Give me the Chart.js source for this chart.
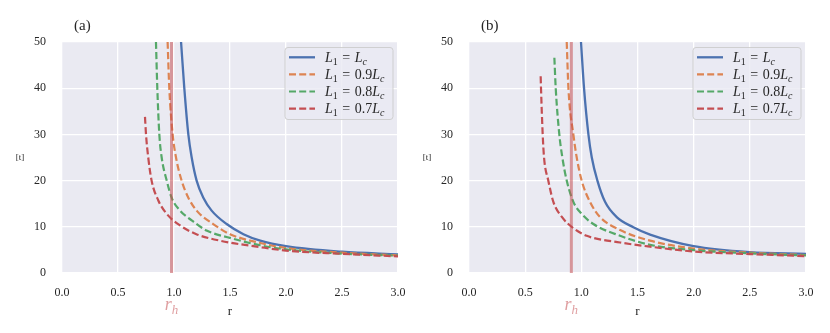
<!DOCTYPE html>
<html><head><meta charset="utf-8">
<script src="https://cdn.jsdelivr.net/npm/chart.js@4.4.1/dist/chart.umd.min.js"></script>
<style>
html,body{margin:0;padding:0;background:#fff;}
#wrap{position:relative;width:830px;height:333px;overflow:hidden;}
.pane{position:absolute;top:0;width:415px;height:333px;}
</style></head><body>
<div id="wrap">
<div class="pane" style="left:0"><canvas id="ca" width="415" height="333"></canvas></div>
<div class="pane" style="left:415px"><canvas id="cb" width="415" height="333"></canvas></div>
</div>
<script>
// ---------- data ----------
const xTicks = [0.0, 0.5, 1.0, 1.5, 2.0, 2.5, 3.0];
const yTicks = [0, 10, 20, 30, 40, 50];
const seriesCoeffs = ['', '0.9', '0.8', '0.7'];   // L1 = coeff * Lc
const panelTitles = ['(a)', '(b)'];
const rhA = 0.978;
const rhB = 0.911;

// panel (a)
const aR_100 = [1.063, 1.092, 1.128, 1.158, 1.202, 1.262, 1.336, 1.47, 1.62, 1.77, 2.0, 2.5, 3.0];
const aT_100 = [50, 40, 30, 25, 20, 16.3, 13.5, 10.6, 8.4, 7.0, 5.8, 4.6, 4.05];
const aR_90 = [0.943, 0.958, 0.988, 1.018, 1.068, 1.128, 1.202, 1.35, 1.5, 1.77, 2.0, 2.5, 3.0];
const aT_90 = [50, 40, 30, 25, 20, 16.3, 13.5, 10.6, 8.4, 6.5, 5.4, 4.4, 3.8];
const aR_80 = [0.839, 0.851, 0.869, 0.89, 0.935, 0.979, 1.054, 1.158, 1.29, 1.5, 1.77, 2.0, 2.5, 3.0];
const aT_80 = [50, 40, 30, 25, 20, 16.3, 13.5, 11.4, 9.2, 7.6, 6.0, 5.1, 4.2, 3.75];
const aR_70 = [0.741, 0.75, 0.77, 0.80, 0.86, 0.935, 1.054, 1.2, 1.41, 1.77, 2.0, 2.5, 3.0];
const aT_70 = [33.8, 30, 25, 20, 15.7, 12.8, 10.3, 8.4, 7.0, 5.6, 4.85, 4.15, 3.6];

// panel (b)
const bR_100 = [0.997, 1.024, 1.063, 1.093, 1.143, 1.211, 1.315, 1.463, 1.612, 2.0, 2.5, 3.0];
const bT_100 = [50, 40, 30, 25, 20, 15.4, 12.1, 9.9, 8.3, 5.8, 4.5, 4.15];
const bR_90 = [0.87, 0.885, 0.929, 0.959, 1.003, 1.077, 1.167, 1.345, 1.612, 2.0, 2.5, 3.0];
const bT_90 = [50, 40, 30, 25, 20, 15.4, 12.1, 9.3, 7.0, 5.3, 4.4, 3.9];
const bR_80 = [0.76, 0.772, 0.804, 0.831, 0.87, 0.929, 1.003, 1.107, 1.345, 1.612, 2.0, 2.5, 3.0];
const bT_80 = [46.6, 40, 30, 25, 20, 15.4, 12.8, 10.6, 8.05, 6.1, 4.95, 4.25, 3.8];
const bR_70 = [0.638, 0.641, 0.656, 0.668, 0.706, 0.751, 0.825, 0.929, 1.048, 1.345, 1.612, 2.0, 2.5, 3.0];
const bT_70 = [42.6, 40, 30, 25, 20, 15.4, 12.2, 9.7, 8.05, 6.6, 5.7, 4.65, 4.1, 3.65];

// ---------- styling ----------
const COLORS = ['#4c72b0', '#dd8452', '#55a868', '#c44e52'];
const RH_COLOR = 'rgba(196,78,82,0.55)';
const SERIF = '"Liberation Serif", "DejaVu Serif", serif';
const TXT = '#262626';

function pts(rs, ts) { return rs.map((r, i) => ({x: r, y: ts[i]})); }

function drawRuns(ctx, x, y, runs) {
  let cx = x;
  for (const r of runs) {
    const [t, it, sz, dy, gapAfter] = r;
    ctx.font = (it ? 'italic ' : '') + sz + 'px ' + SERIF;
    ctx.fillText(t, cx, y + (dy || 0));
    cx += ctx.measureText(t).width + (gapAfter || 0);
  }
  return cx;
}
function runsWidth(ctx, runs) {
  let w = 0;
  for (const r of runs) {
    const [t, it, sz, dy, gapAfter] = r;
    ctx.font = (it ? 'italic ' : '') + sz + 'px ' + SERIF;
    w += ctx.measureText(t).width + (gapAfter || 0);
  }
  return w;
}

const decor = {
  id: 'decor',
  beforeDraw(chart, args, o) {
    const {ctx, chartArea: a} = chart;
    ctx.save();
    ctx.fillStyle = '#eaeaf2';
    ctx.fillRect(a.left, a.top, a.right - a.left, a.bottom - a.top);
    ctx.restore();
  },
  afterDraw(chart, args, o) {
    const {ctx, chartArea: a} = chart;
    const xs = chart.scales.x;
    ctx.save();
    ctx.fillStyle = TXT;
    ctx.textBaseline = 'middle';
    ctx.textAlign = 'left';
    // panel title
    ctx.font = '15px ' + SERIF;
    ctx.fillText(o.title, a.left + 12, 26);
    // y label
    ctx.font = '9px ' + SERIF;
    ctx.textAlign = 'center';
    ctx.fillText('[t]', a.left - 42, (a.top + a.bottom) / 2);
    // x label
    ctx.font = '13px ' + SERIF;
    ctx.fillText('r', (a.left + a.right) / 2, 312);
    // r_h label
    ctx.textAlign = 'left';
    ctx.textBaseline = 'alphabetic';
    ctx.fillStyle = RH_COLOR;
    const rhRuns = [['r', true, 18, 0, 0], ['h', true, 13, 4, 0]];
    const rw = runsWidth(ctx, rhRuns);
    drawRuns(ctx, xs.getPixelForValue(o.rh) - rw / 2, 310, rhRuns);

    // legend
    const bw = 108, bh = 72;
    const bx = a.right - 5 - bw, by = a.top + 5.5;
    ctx.beginPath();
    ctx.roundRect(bx, by, bw, bh, 3);
    ctx.fillStyle = 'rgba(234,234,242,0.8)';
    ctx.fill();
    ctx.lineWidth = 1;
    ctx.strokeStyle = 'rgba(204,204,204,0.9)';
    ctx.stroke();
    const dsets = chart.data.datasets.filter(d => d.legendIndex !== undefined)
      .sort((p, q) => p.legendIndex - q.legendIndex);
    dsets.forEach((d, i) => {
      const cy = by + 9.8 + i * 17.1;
      ctx.beginPath();
      ctx.setLineDash(d.borderDash || []);
      ctx.lineWidth = d.borderWidth;
      ctx.strokeStyle = d.borderColor;
      ctx.moveTo(bx + 4, cy);
      ctx.lineTo(bx + 30, cy);
      ctx.stroke();
      ctx.setLineDash([]);
      ctx.fillStyle = TXT;
      const c = seriesCoeffs[d.legendIndex];
      const runs = [['L', true, 14, 0, 0], ['1', false, 10, 3, 4.5], ['=', false, 14, 0, 4.5]];
      if (c) runs.push([c, false, 14, 0, 0]);
      runs.push(['L', true, 14, 0, 0], ['c', true, 10, 3, 0]);
      drawRuns(ctx, bx + 40, cy + 4.8, runs);
    });
    ctx.restore();
  }
};

function makeChart(id, series, rh, title, leftW, rightPad) {
  const datasets = [];
  datasets.push({
    data: [{x: rh, y: 0}, {x: rh, y: 50}],
    borderColor: RH_COLOR, borderWidth: 3, pointRadius: 0, tension: 0
  });
  for (let i = series.length - 1; i >= 0; i--) {
    const s = series[i];
    datasets.push({
      legendIndex: i,
      data: pts(s[0], s[1]),
      borderColor: COLORS[i],
      borderWidth: i === 0 ? 2.3 : 2.2,
      borderDash: i === 0 ? [] : [7, 3.2],
      pointRadius: 0,
      cubicInterpolationMode: 'monotone',
      fill: false
    });
  }
  return new Chart(document.getElementById(id), {
    type: 'line',
    data: {datasets},
    plugins: [decor],
    options: {
      responsive: false, animation: false, devicePixelRatio: 1,
      events: [],
      layout: {padding: {top: 42, right: rightPad, left: 0, bottom: 0}},
      plugins: {legend: {display: false}, tooltip: {enabled: false},
        decor: {title, rh}},
      scales: {
        x: {
          type: 'linear', min: 0, max: 3,
          afterBuildTicks: s => { s.ticks = xTicks.map(v => ({value: v})); },
          afterFit: s => { s.height = 60; s.paddingLeft = 0; s.paddingRight = 0; },
          ticks: {callback: v => v.toFixed(1), padding: 13, color: TXT,
            font: {family: SERIF, size: 12}, maxRotation: 0, autoSkip: false},
          grid: {color: '#ffffff', lineWidth: 1.3, drawTicks: false},
          border: {display: false}
        },
        y: {
          type: 'linear', min: 0, max: 50,
          afterBuildTicks: s => { s.ticks = yTicks.map(v => ({value: v})); },
          afterFit: s => { s.width = leftW; s.paddingTop = 0; s.paddingBottom = 0; },
          ticks: {padding: 16, color: TXT, font: {family: SERIF, size: 12}},
          grid: {color: '#ffffff', lineWidth: 1.3, drawTicks: false},
          border: {display: false}
        }
      }
    }
  });
}

makeChart('ca', [[aR_100, aT_100], [aR_90, aT_90], [aR_80, aT_80], [aR_70, aT_70]], rhA, panelTitles[0], 62, 17);
makeChart('cb', [[bR_100, bT_100], [bR_90, bT_90], [bR_80, bT_80], [bR_70, bT_70]], rhB, panelTitles[1], 54, 24);
</script>
</body></html>
